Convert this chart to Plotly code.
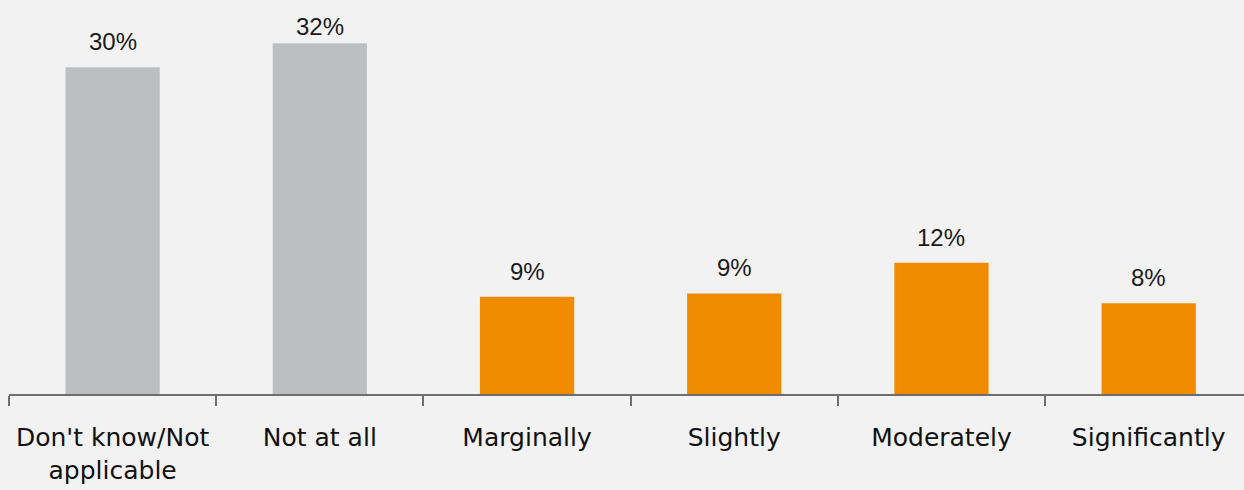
import plotly.graph_objects as go

# Survey responses: share of respondents per answer
categories = ["Don't know/Not<br>applicable", "Not at all", "Marginally",
              "Slightly", "Moderately", "Significantly"]
shares = [29.9, 32.1, 8.9, 9.2, 12.0, 8.3]
bar_colors = ["#BDBEC0", "#BDBEC0", "#F18B00", "#F18B00", "#F18B00", "#F18B00"]

Y_MAX = 36.05
PLOT_H = 394  # plot area height in px (height minus bottom margin)

fig = go.Figure(
    go.Bar(
        x=categories,
        y=shares,
        marker=dict(color=bar_colors, line=dict(width=0)),
        width=0.455,
        hoverinfo="skip",
    )
)

# Percentage labels above each bar; a label that would run off the top is nudged down
for cat, val in zip(categories, shares):
    bar_top_px = (Y_MAX - val) * PLOT_H / Y_MAX
    shift = min(10, bar_top_px - 42)
    fig.add_annotation(
        x=cat, y=val, text=f"{val:.0f}%",
        showarrow=False, yanchor="bottom", yshift=shift,
        font=dict(family="Liberation Sans, Arial, sans-serif", size=24, color="#1A1A1A"),
    )

fig.update_layout(
    width=1244, height=490,
    margin=dict(l=9, r=0, t=0, b=96),
    paper_bgcolor="#F2F2F2",
    plot_bgcolor="#F2F2F2",
    showlegend=False,
    xaxis=dict(
        range=[-0.5, 5.46],
        showline=True, linecolor="#6E6E6E", linewidth=2,
        ticks="outside", tickson="boundaries", ticklen=10, tickwidth=2, tickcolor="#6E6E6E",
        ticklabelstandoff=20,
        showgrid=False, zeroline=False,
        tickfont=dict(family="DejaVu Sans, sans-serif", size=25, color="#111111"),
    ),
    yaxis=dict(range=[0, Y_MAX], visible=False, showgrid=False, zeroline=False),
)

fig.write_html("out.html")
